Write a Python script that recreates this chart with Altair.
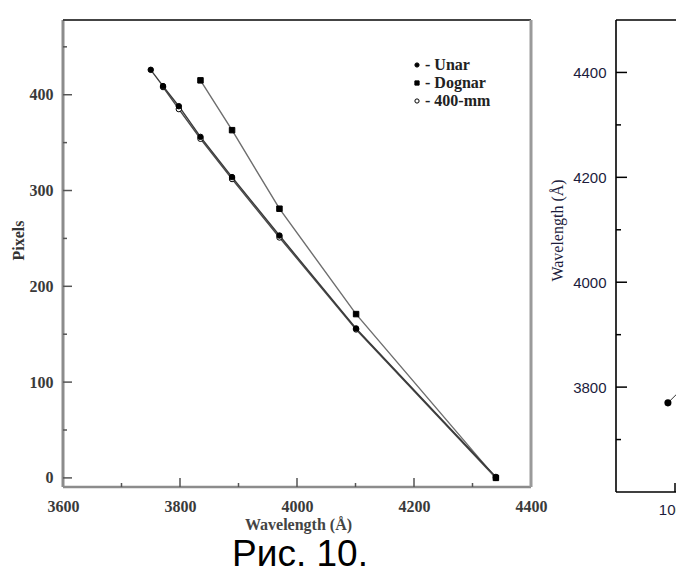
import altair as alt
import pandas as pd

# Pixel position of each spectral line for the three instruments
unar_wavelength = [3750, 3771, 3798, 3835, 3889, 3970, 4101, 4340]
unar_pixels = [426, 409, 388, 356, 314, 253, 156, 1]
dognar_wavelength = [3835, 3889, 3970, 4101, 4340]
dognar_pixels = [415, 363, 281, 171, 0]
mm400_wavelength = [3771, 3798, 3835, 3889, 3970, 4101, 4340]
mm400_pixels = [408, 385, 354, 312, 251, 155, 0]

series_names = ["Unar", "Dognar", "400-mm"]

# Tick values of the main panel
px_major = [0, 100, 200, 300, 400]
px_minor = [50, 150, 250, 350, 450]
wl_major = [3600, 3800, 4000, 4200, 4400]
wl_inner_major = [3800, 4000, 4200]
wl_minor = [3700, 3900, 4100, 4300]

# Neighbouring panel (wavelength vs. position)
side_x = [988, 1005]
side_wavelength = [3770, 3789]
side_wl_major = [3800, 4000, 4200, 4400]
side_wl_minor = [3700, 3900, 4100, 4300]
side_x_major = [1000]

caption = "Рис. 10."

W, H = 676, 574
serif = "Liberation Serif"
navy = "#1c1c3c"


def mk_scale(domain, rng):
    return alt.Scale(domain=domain, range=rng, nice=False, zero=False)


# ---- main panel scales ----------------------------------------------------
X0, X1 = 3600, 4400
Y0, Y1 = -9.5, 478
MX = ([X0, X1], [63, 531])
MY = ([Y0, Y1], [487, 20])

# ---- side panel scales ----------------------------------------------------
SX0, SX1 = 900, 1100
SY0, SY1 = 3600, 4500
SX = ([SX0, SX1], [616, 734])
SY = ([SY0, SY1], [492, 20])

rows = []
for name, wls, pxs in [("400-mm", mm400_wavelength, mm400_pixels),
                       ("Dognar", dognar_wavelength, dognar_pixels),
                       ("Unar", unar_wavelength, unar_pixels)]:
    for w, p in zip(wls, pxs):
        rows.append({"series": name, "wavelength": w, "pixels": p})
main_df = pd.DataFrame(rows)
one = pd.DataFrame({"k": [0]})


def hline(y, x0, x1, color, width, xs, ys):
    return alt.Chart(one).mark_rule(color=color, strokeWidth=width).encode(
        x=alt.X(datum=x0, scale=mk_scale(*xs), axis=None),
        x2=alt.X2(datum=x1),
        y=alt.Y(datum=y, scale=mk_scale(*ys), axis=None),
    )


def vline(x, y0, y1, color, width, xs, ys):
    return alt.Chart(one).mark_rule(color=color, strokeWidth=width).encode(
        x=alt.X(datum=x, scale=mk_scale(*xs), axis=None),
        y=alt.Y(datum=y0, scale=mk_scale(*ys), axis=None),
        y2=alt.Y2(datum=y1),
    )


def yticks(values, x_at, length, color, xs, ys):
    return alt.Chart(pd.DataFrame({"v": values})).mark_rule(
        color=color, strokeWidth=1.5, x2Offset=length
    ).encode(
        y=alt.Y("v:Q", scale=mk_scale(*ys), axis=None),
        x=alt.X(datum=x_at, scale=mk_scale(*xs), axis=None),
        x2=alt.X2(datum=x_at),
    )


def xticks(values, y_at, length, color, xs, ys):
    return alt.Chart(pd.DataFrame({"v": values})).mark_rule(
        color=color, strokeWidth=1.5, y2Offset=-length
    ).encode(
        x=alt.X("v:Q", scale=mk_scale(*xs), axis=None),
        y=alt.Y(datum=y_at, scale=mk_scale(*ys), axis=None),
        y2=alt.Y2(datum=y_at),
    )


layers = [
    # main frame
    vline(X0, Y0, Y1, "#8c8c8c", 3, MX, MY),
    hline(Y0, X0, X1, "#8c8c8c", 2.5, MX, MY),
    hline(Y1, X0, X1, "#444444", 2, MX, MY),
    vline(X1, Y0, Y1, "#9a9a9a", 3, MX, MY),
    # inward ticks
    yticks(px_major, X0, 9, "#555555", MX, MY),
    yticks(px_minor, X0, 4, "#555555", MX, MY),
    xticks(wl_inner_major, Y0, 9, "#555555", MX, MY),
    xticks(wl_minor, Y0, 4, "#555555", MX, MY),
]

# one line per instrument
line_colors = {"Unar": "#3a3a3a", "Dognar": "#6e6e6e", "400-mm": "#4a4a4a"}
for name in ["400-mm", "Dognar", "Unar"]:
    layers.append(
        alt.Chart(main_df[main_df["series"] == name]).mark_line(
            strokeWidth=1.4, color=line_colors[name]
        ).encode(
            x=alt.X("wavelength:Q", scale=mk_scale(*MX), axis=None),
            y=alt.Y("pixels:Q", scale=mk_scale(*MY), axis=None),
        )
    )

legend_kw = dict(
    orient="none", legendX=409, legendY=57, title=None, padding=0,
    labelExpr="'- ' + datum.label", labelFont=serif, labelFontWeight="bold",
    labelFontSize=16, labelColor="#222222", symbolSize=18,
    symbolStrokeWidth=1, rowPadding=2, labelOffset=0,
)

points = alt.Chart(main_df).mark_point(
    filled=True, size=30, strokeWidth=1, opacity=1
).encode(
    x=alt.X("wavelength:Q", scale=mk_scale(*MX),
            axis=alt.Axis(orient="bottom", offset=-(H - 487), values=wl_major,
                          format="d", domain=False, ticks=False, tickSize=0,
                          grid=False, labelPadding=11, labelFlush=False,
                          labelOverlap=False, labelFont=serif,
                          labelFontWeight="bold", labelFontSize=16,
                          labelColor="#3a3a3a", title="Wavelength (Å)",
                          titleFont=serif, titleFontWeight="bold",
                          titleFontSize=16, titleColor="#444444",
                          titleX=298, titleY=29, titleBaseline="top",
                          titleAlign="center")),
    y=alt.Y("pixels:Q", scale=mk_scale(*MY),
            axis=alt.Axis(orient="left", offset=-63, values=px_major,
                          format="d", domain=False, ticks=False, tickSize=0,
                          grid=False, labelPadding=10, labelFlush=False,
                          labelOverlap=False, labelFont=serif,
                          labelFontWeight="bold", labelFontSize=16,
                          labelColor="#3a3a3a", title="Pixels",
                          titleFont=serif, titleFontWeight="bold",
                          titleFontSize=16, titleColor="#333333",
                          titleX=-45, titleY=240, titleAngle=270,
                          titleBaseline="middle", titleAlign="center")),
    fill=alt.Fill("series:N",
                  scale=alt.Scale(domain=series_names,
                                  range=["black", "black", "white"]),
                  legend=alt.Legend(**legend_kw)),
    stroke=alt.Stroke("series:N",
                      scale=alt.Scale(domain=series_names,
                                      range=["black", "black", "black"]),
                      legend=alt.Legend(**legend_kw)),
    shape=alt.Shape("series:N",
                    scale=alt.Scale(domain=series_names,
                                    range=["circle", "square", "circle"]),
                    legend=alt.Legend(**legend_kw)),
)

caption_mark = alt.Chart(pd.DataFrame({"t": [caption]})).mark_text(
    font="Liberation Sans", fontSize=37, align="center",
    baseline="alphabetic", color="black"
).encode(x=alt.value(300), y=alt.value(566), text="t:N")

side_df = pd.DataFrame({"x": side_x, "wavelength": side_wavelength})

side_layers = [
    vline(SX0, SY0, SY1, "black", 1.6, SX, SY),
    hline(SY1, SX0, SX1, "black", 1.6, SX, SY),
    hline(SY0, SX0, SX1, "black", 1.6, SX, SY),
    yticks(side_wl_major, SX0, 11, "black", SX, SY),
    yticks(side_wl_minor, SX0, 5, "black", SX, SY),
    xticks(side_x_major, SY0, 9, "black", SX, SY),
]
side_line = alt.Chart(side_df).mark_line(color="#333333", strokeWidth=1).encode(
    x=alt.X("x:Q", scale=mk_scale(*SX), axis=None),
    y=alt.Y("wavelength:Q", scale=mk_scale(*SY), axis=None),
)
side_points = alt.Chart(side_df.iloc[:1]).mark_circle(
    size=50, color="black", opacity=1
).encode(
    x=alt.X("x:Q", scale=mk_scale(*SX),
            axis=alt.Axis(orient="bottom", offset=-(H - 492), values=side_x_major,
                          format="d", domain=False, ticks=False, tickSize=0,
                          grid=False, labelPadding=10, labelFlush=False,
                          labelFont="Liberation Sans", labelFontSize=15,
                          labelColor=navy, title=None)),
    y=alt.Y("wavelength:Q", scale=mk_scale(*SY),
            axis=alt.Axis(orient="left", offset=-616, values=side_wl_major,
                          format="d", domain=False, ticks=False, tickSize=0,
                          grid=False, labelPadding=10, labelFlush=False,
                          labelFont="Liberation Sans", labelFontSize=15,
                          labelColor=navy, title="Wavelength (Å)",
                          titleFont=serif, titleFontWeight="normal",
                          titleFontSize=16, titleColor=navy,
                          titleX=-59, titleY=230, titleAngle=270,
                          titleBaseline="middle", titleAlign="center")),
)

chart = alt.layer(
    *layers, points, caption_mark, *side_layers, side_line, side_points
).resolve_scale(
    x="independent", y="independent"
).properties(
    width=W, height=H, padding=0,
    autosize=alt.AutoSizeParams(type="none"),
    background="white",
).configure_view(stroke=None)

chart.save("out.html", embed_options={"renderer": "svg", "actions": False})
